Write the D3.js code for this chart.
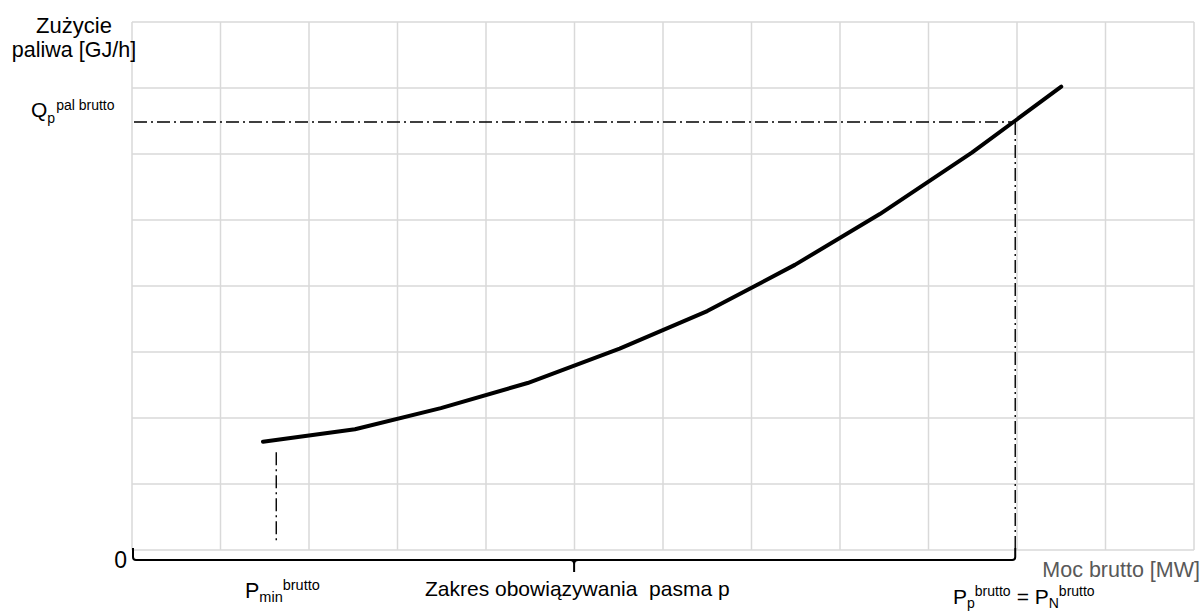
<!DOCTYPE html>
<html><head><meta charset="utf-8">
<script src="https://cdn.jsdelivr.net/npm/d3@7"></script>
<style>body{margin:0;background:#fff}svg{display:block}text{font-family:"Liberation Sans",Arial,sans-serif;white-space:pre}</style>
</head><body>
<svg id="c" width="1204" height="612"></svg>
<script>
// grid positions (in grid units)
const xGrid = [0,1,2,3,4,5,6,7,8,9,10,11,12];
const yGrid = [0,1,2,3,4,5,6,7,8];
// fuel consumption curve
const curveX = [1.48, 2.52, 3.49, 4.47, 5.51, 6.50, 7.49, 8.45, 9.49, 10.50];
const curveY = [1.64, 1.83, 2.15, 2.53, 3.05, 3.62, 4.32, 5.09, 6.02, 7.02];
// reference values
const pMin = 1.63, pMinTop = 1.48, pMinBottom = 0.1;
const pN = 9.98, qP = 6.485, pNBottom = 0.03;

const svg = d3.select("#c");
const x = d3.scaleLinear().domain([0,12]).range([132,1194]);
const y = d3.scaleLinear().domain([0,8]).range([550,22]);

const g = svg.append("g");
g.selectAll(".vg").data(xGrid).join("line")
  .attr("x1",d=>x(d)).attr("x2",d=>x(d)).attr("y1",y(0)).attr("y2",y(8))
  .attr("stroke","#d9d9d9").attr("stroke-width",1.5);
g.selectAll(".hg").data(yGrid).join("line")
  .attr("y1",d=>y(d)).attr("y2",d=>y(d)).attr("x1",x(0)).attr("x2",x(12))
  .attr("stroke","#d9d9d9").attr("stroke-width",1.5);

const dash = "13,4,2,4";
svg.append("line").attr("x1",x(0)+2).attr("x2",x(pN)).attr("y1",y(qP)).attr("y2",y(qP))
  .attr("stroke","#000").attr("stroke-width",1.4).attr("stroke-dasharray",dash);
svg.append("line").attr("x1",x(pN)).attr("x2",x(pN)).attr("y1",y(qP)).attr("y2",y(pNBottom))
  .attr("stroke","#000").attr("stroke-width",1.4).attr("stroke-dasharray",dash);
svg.append("line").attr("x1",x(pMin)).attr("x2",x(pMin)).attr("y1",y(pMinTop)).attr("y2",y(pMinBottom))
  .attr("stroke","#000").attr("stroke-width",1.4).attr("stroke-dasharray",dash);

// curve
const pts = curveX.map((v,i)=>[v,curveY[i]]);
svg.append("path").datum(pts)
  .attr("d", d3.line().x(d=>x(d[0])).y(d=>y(d[1])).curve(d3.curveLinear))
  .attr("fill","none").attr("stroke","#000").attr("stroke-width",4)
  .attr("stroke-linecap","round").attr("stroke-linejoin","round");

// bracket
const by = 560, bl = x(0)+1, br = x(pN), bm = (bl+br)/2;
const bp = d3.path();
bp.moveTo(bl, 548); bp.lineTo(bl, by-3); bp.quadraticCurveTo(bl, by, bl+3, by);
bp.lineTo(br-3, by); bp.quadraticCurveTo(br, by, br, by-3); bp.lineTo(br, 548);
svg.append("path").attr("d", bp.toString()).attr("fill","none").attr("stroke","#000").attr("stroke-width",2);
const mp = d3.path();
mp.moveTo(bm-4, by); mp.quadraticCurveTo(bm, by, bm, by+4); mp.lineTo(bm, by+12);
mp.moveTo(bm+4, by); mp.quadraticCurveTo(bm, by, bm, by+4);
svg.append("path").attr("d", mp.toString()).attr("fill","none").attr("stroke","#000").attr("stroke-width",2);

// texts
const T = (xx,yy,s,size,anchor,fill) => svg.append("text").attr("x",xx).attr("y",yy)
  .attr("font-size",size).attr("text-anchor",anchor||"start").attr("fill",fill||"#000").text(s);

T(74,33,"Zużycie",22,"middle");
T(74,57,"paliwa [GJ/h]",21.5,"middle");
T(127,568,"0",23,"end");
T(1200,577,"Moc brutto [MW]",21.5,"end","#595959");
T(425,596,"Zakres obowiązywania  pasma p",21);

// Q label
let t = svg.append("text").attr("x",31).attr("y",117).attr("font-size",21);
t.append("tspan").text("Q");
t.append("tspan").attr("font-size",14).attr("dy",6).text("p");
t.append("tspan").attr("font-size",14).attr("dy",-13).attr("dx",1).text("pal brutto");

// Pmin label
t = svg.append("text").attr("x",245).attr("y",598).attr("font-size",21.5);
t.append("tspan").text("P");
t.append("tspan").attr("font-size",14.5).attr("dy",4).text("min");
t.append("tspan").attr("font-size",14.5).attr("dy",-12).text("brutto");

// Pp = PN label
t = svg.append("text").attr("x",953).attr("y",604).attr("font-size",21);
t.append("tspan").text("P");
t.append("tspan").attr("font-size",14).attr("dy",4).text("p");
t.append("tspan").attr("font-size",14).attr("dy",-12).text("brutto");
t.append("tspan").attr("font-size",21).attr("dy",8).attr("dx",6).text("= P");
t.append("tspan").attr("font-size",14).attr("dy",4).text("N");
t.append("tspan").attr("font-size",14).attr("dy",-12).text("brutto");
</script>
</body></html>
